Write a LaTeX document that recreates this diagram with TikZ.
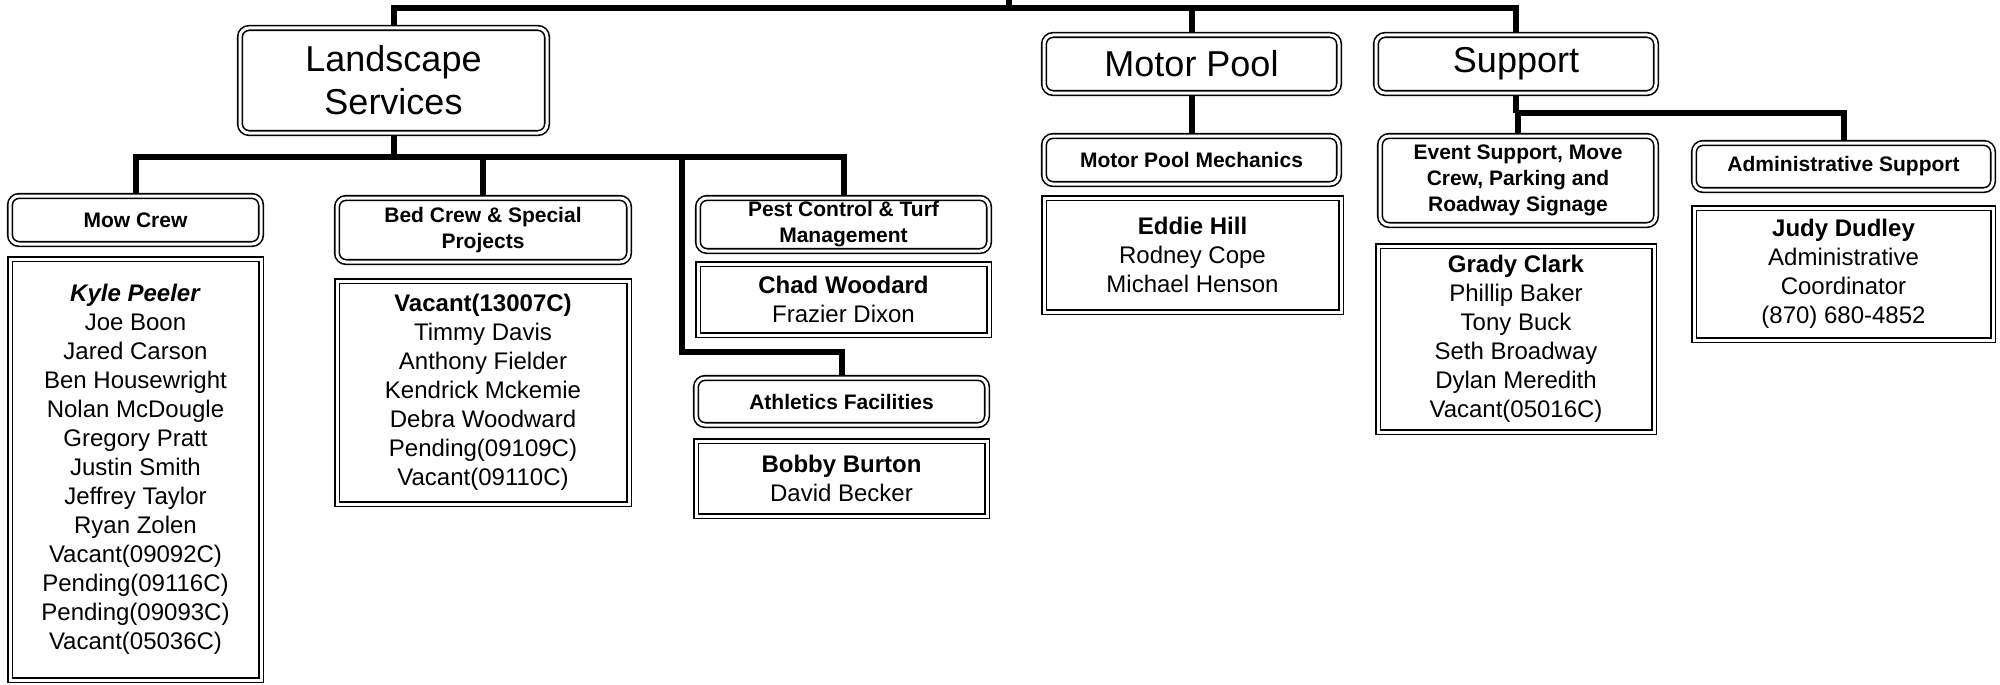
\documentclass[tikz,border=0pt]{standalone}
\usepackage{fontspec}
\setmainfont{Liberation Sans}
\usetikzlibrary{backgrounds}

\begin{document}
\begin{tikzpicture}[x=1pt,y=-1pt,
  box/.style={draw,double,double distance=3pt,line width=1.6pt,align=center,inner sep=0pt,fill=white},
  unit/.style={box,rounded corners=9pt,font=\fontsize{36}{43}\selectfont},
  crew/.style={box,rounded corners=9pt,font=\bfseries\fontsize{21}{26}\selectfont},
  staff/.style={box,font=\fontsize{24}{29}\selectfont},
  link/.style={line width=6pt,line join=miter}]
  \useasboundingbox (0,0) rectangle (2000,685);

  % Top level units
  \node[unit,minimum width=307pt,minimum height=105pt] (land) at (393.5,80.5) {Landscape\\Services};
  \node[unit,minimum width=295pt,minimum height=58pt] (motor) at (1191.5,64) {Motor Pool};
  \node[unit,minimum width=280pt,minimum height=58pt] (supp) at (1516,64) {Support};

  % Crews under Landscape Services
  \node[crew,minimum width=251pt,minimum height=48pt] (mow) at (135.5,220) {Mow Crew};
  \node[crew,minimum width=292pt,minimum height=64pt] (bed) at (483,230) {Bed Crew \& Special\\Projects};
  \node[crew,minimum width=291pt,minimum height=53pt] (pest) at (843.5,224.5) {Pest Control \& Turf\\Management};
  \node[crew,minimum width=291pt,minimum height=47pt] (athl) at (841.5,401.5) {Athletics Facilities};

  \node[staff,minimum width=251pt,minimum height=421pt] (mowlist) at (135.5,469.5)
    {\textbf{\textit{Kyle Peeler}}\\Joe Boon\\Jared Carson\\Ben Housewright\\Nolan McDougle\\Gregory Pratt\\Justin Smith\\Jeffrey Taylor\\Ryan Zolen\\Vacant(09092C)\\Pending(09116C)\\Pending(09093C)\\Vacant(05036C)};
  \node[staff,minimum width=292pt,minimum height=223pt] (bedlist) at (483,392.5)
    {\textbf{Vacant(13007C)}\\Timmy Davis\\Anthony Fielder\\Kendrick Mckemie\\Debra Woodward\\Pending(09109C)\\Vacant(09110C)};
  \node[staff,minimum width=291pt,minimum height=71pt] (pestlist) at (843.5,299.5)
    {\textbf{Chad Woodard}\\Frazier Dixon};
  \node[staff,minimum width=291pt,minimum height=75pt] (athllist) at (841.5,478.5)
    {\textbf{Bobby Burton}\\David Becker};

  % Motor Pool
  \node[crew,minimum width=295pt,minimum height=48pt] (mech) at (1191.5,160) {Motor Pool Mechanics};
  \node[staff,minimum width=297pt,minimum height=114pt] (mechlist) at (1192.5,255)
    {\textbf{Eddie Hill}\\Rodney Cope\\Michael Henson};

  % Support
  \node[crew,minimum width=276pt,minimum height=89pt] (event) at (1518,180.5) {Event Support, Move\\Crew, Parking and\\Roadway Signage};
  \node[crew,minimum width=299pt,minimum height=47pt] (admin) at (1843.5,166.5) {Administrative Support};
  \node[staff,minimum width=276pt,minimum height=186pt] (eventlist) at (1516,339)
    {\textbf{Grady Clark}\\Phillip Baker\\Tony Buck\\Seth Broadway\\Dylan Meredith\\Vacant(05016C)};
  \node[staff,minimum width=299pt,minimum height=132pt] (adminlist) at (1843.5,274)
    {\textbf{Judy Dudley}\\Administrative\\Coordinator\\(870) 680-4852};

  % Bars of the tree
  \coordinate (root) at (1009,-10);
  \coordinate (topbar) at (0,8);
  \coordinate (landbar) at (0,157);
  \coordinate (athlbar) at (682,352);
  \coordinate (suppbar) at (0,113);

  \begin{scope}[on background layer]
    \draw[link] (root) -- (root |- topbar);
    \draw[link] (land.north) -- (land.north |- topbar) -| (supp.north);
    \draw[link] (motor.north) -- (motor.north |- topbar);
    \draw[link] (land.south) -- (land.south |- landbar);
    \draw[link] (mow.north) |- (pest.north |- landbar) -- (pest.north);
    \draw[link] (bed.north) -- (bed.north |- landbar);
    \draw[link] (athlbar |- landbar) -- (athlbar) -| (athl.north);
    \draw[link] (motor.south) -- (mech.north);
    \draw[link] (supp.south) -- (supp.south |- suppbar);
    \draw[link] (event.north) |- (admin.north |- suppbar) -- (admin.north);
  \end{scope}
\end{tikzpicture}
\end{document}
